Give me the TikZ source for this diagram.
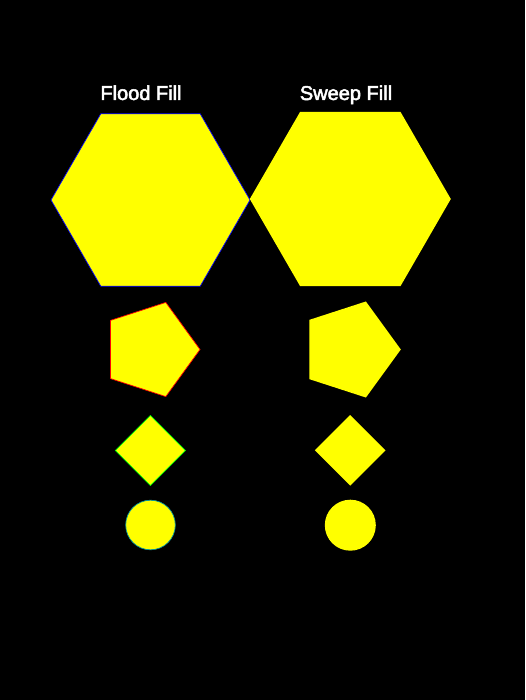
\documentclass[tikz,border=0pt]{standalone}
\usepackage{fontspec}
\setmainfont{Liberation Sans}
\newfontfamily\titlefont[FakeBold=2.5]{Liberation Sans}
\definecolor{pureyellow}{RGB}{255,255,0}
\definecolor{edgeteal}{RGB}{0,150,160}
\begin{document}
\begin{tikzpicture}[x=1pt,y=-1pt,
  shapefill/.style={fill=pureyellow},
  edgeblue/.style={shapefill,draw=blue,line width=0.7pt},
  edgered/.style={shapefill,draw=red,line width=0.7pt},
  edgegreen/.style={shapefill,draw=green,line width=0.7pt},
  edgeteal/.style={shapefill,draw=edgeteal,line width=0.7pt},
  title/.style={text=white,font=\titlefont\fontsize{20}{24}\selectfont,anchor=base,inner sep=0pt}]
\fill[black] (0,0) rectangle (525,700);
\useasboundingbox (0,0) rectangle (525,700);
% titles
\node[title] (flood) at (141,100) {Flood Fill};
\node[title] (sweep) at (346,100) {Sweep Fill};
% hexagons
\filldraw[edgeblue] (150.5,200) +(0:99.5) -- +(60:99.5) -- +(120:99.5) -- +(180:99.5) -- +(240:99.5) -- +(300:99.5) -- cycle;
\fill[shapefill] (350.3,199) +(0:100.5) -- +(60:100.5) -- +(120:100.5) -- +(180:100.5) -- +(240:100.5) -- +(300:100.5) -- cycle;
% pentagons
\filldraw[edgered] (150.5,349.5) +(0:49.5) -- +(72:49.5) -- +(144:49.5) -- +(216:49.5) -- +(288:49.5) -- cycle;
\fill[shapefill] (350.3,349.5) +(0:50.5) -- +(72:50.5) -- +(144:50.5) -- +(216:50.5) -- +(288:50.5) -- cycle;
% diamonds
\filldraw[edgegreen] (150.3,450.5) +(0:35) -- +(90:35) -- +(180:35) -- +(270:35) -- cycle;
\fill[shapefill] (350.2,450.3) +(0:35.3) -- +(90:35.3) -- +(180:35.3) -- +(270:35.3) -- cycle;
% circles
\filldraw[edgeteal] (150.5,525) circle (24.8);
\fill[shapefill] (350.3,525.2) circle (25.5);
\end{tikzpicture}
\end{document}
